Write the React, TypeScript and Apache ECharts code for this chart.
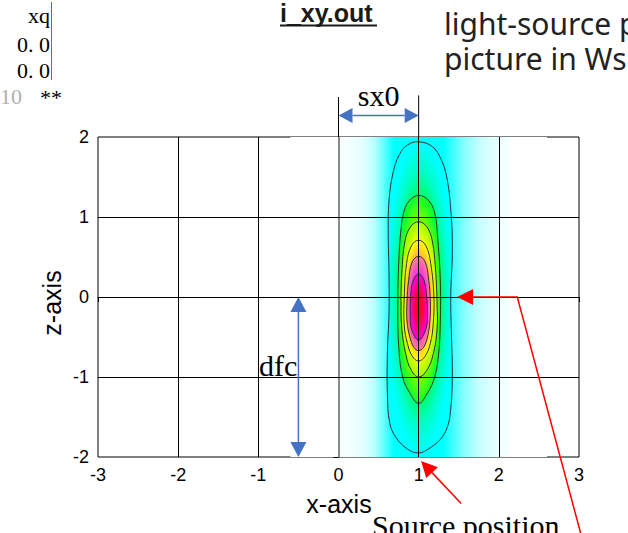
import React, { useEffect, useRef } from "react";
import * as echarts from "echarts";

// ---------- data ----------
const xTicks = [-3, -2, -1, 0, 1, 2, 3];
const zTicks = [-2, -1, 0, 1, 2];

// contour lines, outermost first, as [x, z]
const contour1 = [[1.0, 1.94], [1.17, 1.88], [1.28, 1.72], [1.35, 1.5], [1.4, 1.1], [1.42, 0.6], [1.4, 0.0], [1.41, -0.5], [1.42, -1.0], [1.4, -1.4], [1.36, -1.62], [1.27, -1.78], [1.12, -1.9], [1.0, -1.95], [0.86, -1.9], [0.72, -1.76], [0.64, -1.58], [0.61, -1.2], [0.61, -0.7], [0.63, -0.2], [0.63, 0.3], [0.62, 0.8], [0.63, 1.2], [0.68, 1.55], [0.76, 1.78], [0.86, 1.9]];
const contour2 = [[1.0, 1.27], [1.12, 1.21], [1.2, 1.05], [1.24, 0.7], [1.27, 0.2], [1.27, -0.3], [1.25, -0.7], [1.2, -1.0], [1.11, -1.2], [1.0, -1.33], [0.89, -1.2], [0.8, -1.0], [0.75, -0.6], [0.74, -0.1], [0.75, 0.4], [0.78, 0.85], [0.82, 1.08], [0.89, 1.21]];
const contour3 = [[1.0, 0.94], [1.1, 0.88], [1.17, 0.7], [1.21, 0.35], [1.23, -0.1], [1.23, -0.4], [1.18, -0.72], [1.1, -0.92], [1.0, -1.0], [0.91, -0.92], [0.84, -0.72], [0.79, -0.4], [0.78, -0.1], [0.79, 0.3], [0.83, 0.7], [0.9, 0.88]];
const contour4 = [[1.0, 0.71], [1.09, 0.64], [1.15, 0.42], [1.19, 0.0], [1.18, -0.35], [1.145, -0.58], [1.08, -0.74], [1.0, -0.8], [0.92, -0.74], [0.86, -0.58], [0.82, -0.35], [0.82, 0.0], [0.85, 0.42], [0.91, 0.64]];
const contour5 = [[1.0, 0.51], [1.08, 0.44], [1.125, 0.21], [1.145, -0.05], [1.14, -0.3], [1.11, -0.5], [1.06, -0.63], [1.0, -0.67], [0.94, -0.63], [0.89, -0.5], [0.855, -0.3], [0.855, -0.05], [0.875, 0.21], [0.92, 0.44]];
const contour6 = [[1.0, 0.29], [1.07, 0.2], [1.1, 0.0], [1.11, -0.2], [1.09, -0.4], [1.0, -0.54], [0.91, -0.4], [0.895, -0.2], [0.9, 0.0], [0.93, 0.2]];

// faint cyan halo around the source: colour read across x (full z range)
const haloX = [-0.6, -0.1, 0.1, 0.3, 0.45, 0.55, 0.65, 0.7, 1.3, 1.4, 1.55, 1.75, 2.0, 2.2, 2.6];
const haloZ = [2, -2];

// annotations (data coordinates)
const sx0Span = [[0, 2.27], [1, 2.27]];
const sx0Guides = [[0, 2.0], [0, 2.5], [1, 2.0], [1, 2.52]];
const dfcSpan = [[-0.5, 0], [-0.5, -2]];
const centreArrow = [[1.48, 0], [2.23, 0], [3.02, -2.95]];
const sourceArrow = [[1.53, -2.58], [1.03, -2.05]];

// ---------- styles ----------
const haloColors = ["#ffffff", "#ffffff", "#f6ffff", "#e4ffff", "#b8ffff", "#70ffff", "#20ffff", "#00ffff", "#00ffff", "#30ffff", "#80ffff", "#c4ffff", "#ecffff", "#ffffff", "#ffffff"];
const contours = [contour1, contour2, contour3, contour4, contour5, contour6];
const contourStops: [number, string][][] = [
  [[0, "#00ff50"], [0.64, "#00ff60"], [0.8, "#00ffc0"], [1, "#00ffff"]],
  [[0, "#a0ff00"], [0.78, "#70ff00"], [1, "#10ff30"]],
  [[0, "#ffff00"], [0.78, "#e8ff00"], [1, "#a0ff00"]],
  [[0, "#ff9060"], [0.74, "#ffb040"], [1, "#ffff00"]],
  [[0, "#ff00ff"], [0.65, "#ff30e8"], [1, "#ff8090"]],
  [[0, "#ff0000"], [0.45, "#ff0040"], [1, "#ff00e0"]],
];

const SANS = '"Liberation Sans", Arial, sans-serif';
const SERIF = '"Liberation Serif", "Times New Roman", serif';
const HEAD = '"Noto Sans", "Open Sans", sans-serif';

function polygonSeries(points: number[][], makeFill: (pts: number[][]) => any, stroke: string | null, smooth: number) {
  return {
    type: "custom",
    coordinateSystem: "cartesian2d",
    silent: true,
    clip: true,
    z: 2,
    data: points,
    encode: { x: 0, y: 1 },
    renderItem: (params: any, api: any) => {
      if (params.dataIndex !== 0) return null;
      const pts = points.map((p) => api.coord(p));
      return {
        type: "polygon",
        shape: { points: pts, smooth },
        style: { fill: makeFill(pts), stroke: stroke || "none", lineWidth: stroke ? 1 : 0 },
      };
    },
  };
}

function head(tip: number[], from: number[], len: number, half: number) {
  const dx = tip[0] - from[0];
  const dy = tip[1] - from[1];
  const L = Math.hypot(dx, dy);
  const ux = dx / L, uy = dy / L;
  const bx = tip[0] - ux * len, by = tip[1] - uy * len;
  return {
    base: [bx, by],
    points: [tip, [bx - uy * half, by + ux * half], [bx + uy * half, by - ux * half]],
  };
}

export default function App() {
  const ref = useRef<HTMLDivElement>(null);
  useEffect(() => {
    const chart = echarts.init(ref.current!, null, { renderer: "svg" });

    const series: any[] = [];
    contours.forEach((c, i) => {
      series.push(
        polygonSeries(
          c,
          () =>
            new echarts.graphic.RadialGradient(
              0.5, 0.5, 0.5,
              contourStops[i].map(([offset, color]) => ({ offset, color }))
            ),
          "#303030",
          0.4
        )
      );
    });
    const inner = (arr: number[]) => arr.slice(1, -1);
    series.push({
      type: "line",
      data: [],
      z: 10,
      silent: true,
      markLine: {
        silent: true,
        symbol: ["none", "none"],
        label: { show: false },
        animation: false,
        data: [
          ...inner(xTicks).map((v) => ({
            xAxis: v,
            lineStyle: v === 0 ? { color: "#8a8a8a", width: 2, type: "solid" } : { color: "#000", width: 1, type: "solid" },
          })),
          ...inner(zTicks).map((v) => ({ yAxis: v, lineStyle: { color: "#000", width: 1, type: "solid" } })),
        ],
      },
    });

    const axisCommon = {
      type: "value",
      interval: 1,
      axisLine: { show: true, lineStyle: { color: "#000", width: 1 } },
      axisTick: { show: true, inside: false, length: 5, lineStyle: { color: "#000" } },
      splitLine: { show: false },
      axisLabel: { color: "#000", fontSize: 18, fontFamily: SANS, margin: 9 },
    };

    chart.setOption({
      animation: false,
      backgroundColor: "#fff",
      grid: { left: 98, top: 137, width: 481, height: 320, show: true, borderColor: "#000", borderWidth: 1, backgroundColor: "transparent" },
      xAxis: { ...axisCommon, min: xTicks[0], max: xTicks[xTicks.length - 1] },
      yAxis: { ...axisCommon, min: zTicks[0], max: zTicks[zTicks.length - 1] },
      series,
    });

    const P = (p: number[]) => chart.convertToPixel({ gridIndex: 0 }, p) as number[];
    const BLUE = "#4472c4";
    const RED = "#ff0000";
    const Z = 100;
    const g: any[] = [];

    // halo beneath the contours
    {
      const a = P([haloX[0], haloZ[0]]);
      const b = P([haloX[haloX.length - 1], haloZ[1]]);
      const span = haloX[haloX.length - 1] - haloX[0];
      g.push({
        type: "rect",
        z: 1,
        silent: true,
        shape: { x: a[0], y: a[1], width: b[0] - a[0], height: b[1] - a[1] },
        style: {
          fill: new echarts.graphic.LinearGradient(
            a[0], 0, b[0], 0,
            haloX.map((x, i) => ({ offset: (x - haloX[0]) / span, color: haloColors[i] })),
            true
          ),
        },
      });
    }

    // sx0 guides and double arrow
    for (let i = 0; i < sx0Guides.length; i += 2) {
      const a = P(sx0Guides[i]), b = P(sx0Guides[i + 1]);
      g.push({ type: "line", z: Z, shape: { x1: a[0], y1: a[1], x2: b[0], y2: b[1] }, style: { stroke: "#000", lineWidth: 1 } });
    }
    const dbl = (span: number[][], len: number, half: number) => {
      const a = P(span[0]), b = P(span[1]);
      const h1 = head(a, b, len, half), h2 = head(b, a, len, half);
      g.push({ type: "line", z: Z, shape: { x1: h1.base[0], y1: h1.base[1], x2: h2.base[0], y2: h2.base[1] }, style: { stroke: BLUE, lineWidth: 1.5 } });
      g.push({ type: "polygon", z: Z, shape: { points: h1.points }, style: { fill: BLUE } });
      g.push({ type: "polygon", z: Z, shape: { points: h2.points }, style: { fill: BLUE } });
    };
    dbl(sx0Span, 14, 7.5);
    dbl(dfcSpan, 15, 8);

    // red arrow to the centre
    {
      const pts = centreArrow.map(P);
      const h = head(pts[0], pts[1], 16, 8);
      g.push({ type: "polyline", z: Z, shape: { points: [h.base, pts[1], pts[2]] }, style: { stroke: RED, lineWidth: 1.5, fill: null } });
      g.push({ type: "polygon", z: Z, shape: { points: h.points }, style: { fill: RED } });
    }
    // red arrow to the source position
    {
      const a = P(sourceArrow[0]), b = P(sourceArrow[1]);
      const h = head(b, a, 16, 8);
      g.push({ type: "line", z: Z, shape: { x1: a[0], y1: a[1], x2: h.base[0], y2: h.base[1] }, style: { stroke: RED, lineWidth: 1.5 } });
      g.push({ type: "polygon", z: Z, shape: { points: h.points }, style: { fill: RED } });
    }

    const txt = (text: string, x: number, y: number, font: string, align: string, fill = "#000", extra: any = {}, lineHeight?: number) => ({
      type: "text",
      z: Z,
      x,
      y,
      ...extra,
      style: { text, font, fill, align, verticalAlign: "middle", textAlign: align, textVerticalAlign: "middle", ...(lineHeight ? { lineHeight } : {}) },
    });

    const sxc = P([(sx0Span[0][0] + sx0Span[1][0]) / 2, 2.52]);
    g.push(txt("sx0", sxc[0], sxc[1], `30px ${SERIF}`, "center"));
    const dfcP = P(dfcSpan[0]);
    g.push(txt("dfc", dfcP[0] - 1, dfcP[1] + 68, `30px ${SERIF}`, "right"));
    g.push(txt("Source position", 372, 525, `30px ${SERIF}`, "left"));

    g.push(txt("x-axis", 339, 504, `25px ${SANS}`, "center"));
    g.push(txt("z-axis", 52, 303, `25px ${SANS}`, "center", "#000", { rotation: Math.PI / 2 }));

    // header texts
    g.push(txt("i_xy.out", 280, 13, `bold 25px ${SANS}`, "left", "#1a1a1a", {}, 25));
    g.push({ type: "line", z: Z, shape: { x1: 280, y1: 25.5, x2: 377, y2: 25.5 }, style: { stroke: "#1a1a1a", lineWidth: 2 } });
    g.push(txt("light-source p", 444, 23, `30px ${HEAD}`, "left", "#222", {}, 32));
    g.push(txt("picture in Ws", 444, 58, `30px ${HEAD}`, "left", "#222", {}, 32));

    g.push(txt("xq", 50, 15, `22px ${SERIF}`, "right"));
    g.push(txt("0. 0", 50, 44, `22px ${SERIF}`, "right"));
    g.push(txt("0. 0", 50, 70, `22px ${SERIF}`, "right"));
    g.push({ type: "line", z: Z, shape: { x1: 51.5, y1: 2, x2: 51.5, y2: 80 }, style: { stroke: BLUE, lineWidth: 1 } });
    g.push(txt("10", 0, 96, `22px ${SERIF}`, "left", "#b0b0b0"));
    g.push(txt("**", 40, 97, `22px ${SERIF}`, "left"));

    chart.setOption({ graphic: g });

    return () => chart.dispose();
  }, []);

  return (
    <div
      ref={ref}
      style={{ position: "fixed", left: 0, top: 0, width: 628, height: 533, background: "#fff" }}
    />
  );
}
